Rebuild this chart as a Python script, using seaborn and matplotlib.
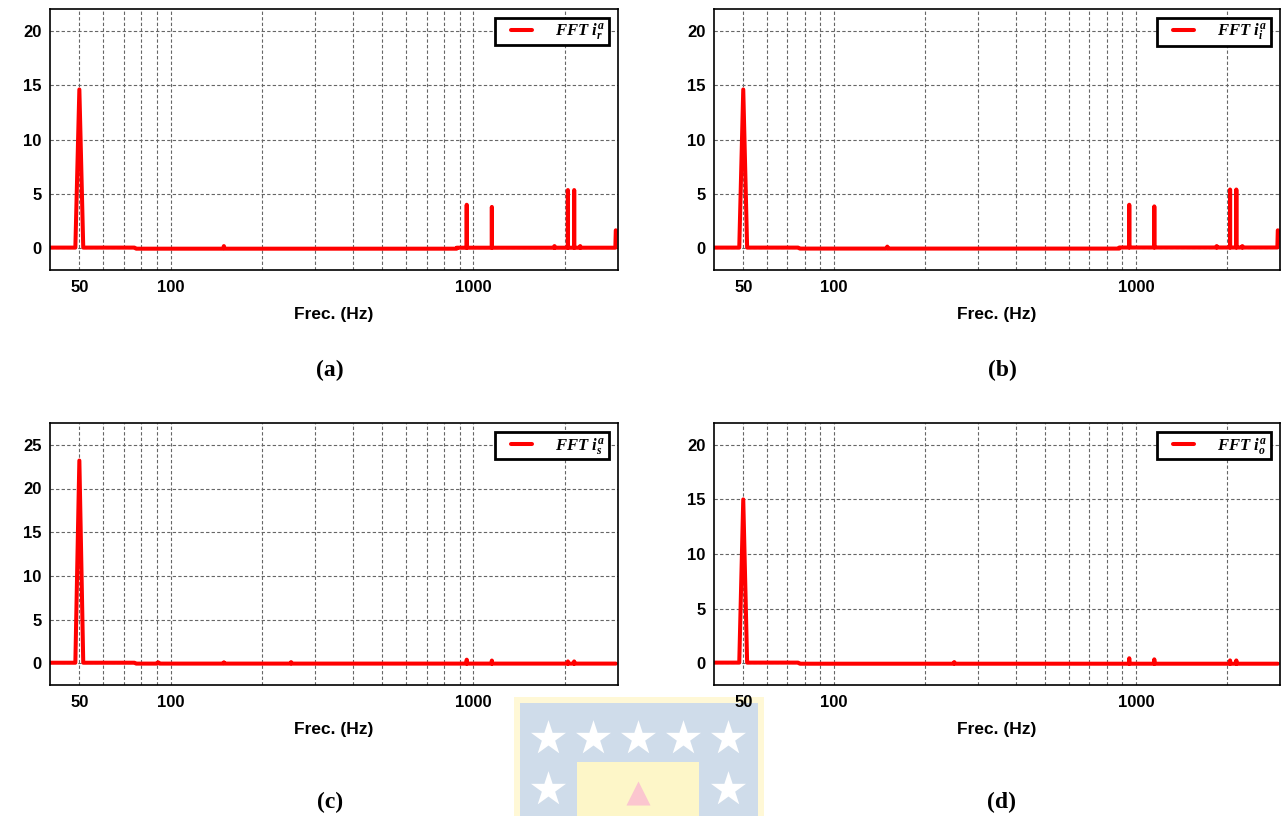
import numpy as np
import pandas as pd
import matplotlib
matplotlib.use("Agg")
import matplotlib.pyplot as plt
import seaborn as sns
from matplotlib.ticker import FixedLocator, FixedFormatter, NullFormatter
from matplotlib.patches import Rectangle
from matplotlib.lines import Line2D
from matplotlib.legend_handler import HandlerLine2D

# ---------------- data ----------------
freq_a = [40, 48.5, 50, 51.5, 76, 77, 149, 150, 151, 880, 881, 949, 950, 951,
          1149, 1150, 1151, 1850, 1851, 1852, 2049, 2050, 2051, 2149, 2150, 2151,
          2250, 2251, 2252, 2940, 2950]
amp_a = [0.06, 0.06, 14.6, 0.06, 0.06, -0.04, -0.04, 0.2, -0.04, -0.04, 0.05, 0.05, 4.0, 0.05,
         0.05, 3.8, 0.05, 0.05, 0.2, 0.05, 0.05, 5.35, 0.05, 0.05, 5.35, 0.05,
         0.05, 0.2, 0.05, 0.05, 1.65]

freq_b = [40, 48.5, 50, 51.5, 76, 77, 149, 150, 151, 880, 881, 949, 950, 951,
          1149, 1150, 1151, 1850, 1851, 1852, 2049, 2050, 2051, 2149, 2150, 2151,
          2250, 2251, 2252, 2940, 2950]
amp_b = [0.06, 0.06, 14.6, 0.06, 0.06, -0.03, -0.03, 0.15, -0.03, -0.03, 0.07, 0.07, 4.0, 0.07,
         0.07, 3.85, 0.07, 0.07, 0.2, 0.07, 0.07, 5.4, 0.07, 0.07, 5.4, 0.07,
         0.07, 0.2, 0.07, 0.07, 1.65]

freq_c = [40, 48.5, 50, 51.5, 76, 77, 90, 91, 92, 149, 150, 151, 249, 250, 251,
          949, 950, 951, 1149, 1150, 1151, 2049, 2050, 2051, 2149, 2150, 2151, 2950]
amp_c = [0.05, 0.05, 23.2, 0.05, 0.05, -0.05, -0.05, 0.1, -0.05, -0.05, 0.1, -0.05, -0.05, 0.12, -0.05,
         -0.05, 0.4, -0.05, -0.05, 0.3, -0.05, -0.05, 0.2, -0.05, -0.05, 0.2, -0.05, -0.05]

freq_d = [40, 48.5, 50, 51.5, 76, 77, 249, 250, 251,
          949, 950, 951, 1149, 1150, 1151, 2049, 2050, 2051, 2149, 2150, 2151, 2950]
amp_d = [0.05, 0.05, 15.0, 0.05, 0.05, -0.05, -0.05, 0.1, -0.05,
         -0.05, 0.45, -0.05, -0.05, 0.35, -0.05, -0.05, 0.25, -0.05, -0.05, 0.25, -0.05, -0.05]

labels = [r"$FFT\ i_r^a$", r"$FFT\ i_i^a$", r"$FFT\ i_s^a$", r"$FFT\ i_o^a$"]
captions = ["(a)", "(b)", "(c)", "(d)"]
xtick_major = [50, 100, 1000]
xtick_major_labels = ["50", "100", "1000"]
xtick_minor = [60, 70, 80, 90, 200, 300, 400, 500, 600, 700, 800, 900, 2000]
yticks_20 = [0, 5, 10, 15, 20]
yticks_25 = [0, 5, 10, 15, 20, 25]

# ---------------- style ----------------
sns.set_style("white")
plt.rcParams["font.family"] = ["Liberation Sans", "DejaVu Sans"]
plt.rcParams["mathtext.fontset"] = "custom"
plt.rcParams["mathtext.it"] = "Liberation Serif:italic:bold"
plt.rcParams["mathtext.rm"] = "Liberation Serif:bold"
plt.rcParams["mathtext.bf"] = "Liberation Serif:bold"
for k in ["text.color", "axes.labelcolor", "xtick.color", "ytick.color"]:
    plt.rcParams[k] = "black"

fig = plt.figure(figsize=(12.86, 8.16), dpi=100)
W, H = 1286, 816

# ---------------- faint watermark logo (background decoration) ----------------
lg = fig.add_axes([0, 0, 1, 1], zorder=-5)
lg.set_xlim(0, W)
lg.set_ylim(H, 0)
lg.axis("off")
lg.add_patch(Rectangle((514, 697), 250, 125, facecolor="#fff8d6", edgecolor="none"))
lg.add_patch(Rectangle((520, 703), 238, 120, facecolor="#cfdcea", edgecolor="none"))
lg.add_patch(Rectangle((577, 762), 122, 60, facecolor="#fdf6c8", edgecolor="none"))
lg.scatter([548, 593, 638, 683, 728, 548, 728], [738, 738, 738, 738, 738, 789, 789],
           marker="*", s=700, color="white", linewidths=0)
lg.scatter([638], [793], marker="^", s=300, color="#fbc6cf", linewidths=0)

boxes = [(50, 9, 618, 270), (714, 9, 1280, 270), (50, 423, 618, 685), (714, 423, 1280, 685)]
datasets = [(freq_a, amp_a, yticks_20, (-2, 22)),
            (freq_b, amp_b, yticks_20, (-2, 22)),
            (freq_c, amp_c, yticks_25, (-2.5, 27.5)),
            (freq_d, amp_d, yticks_20, (-2, 22))]
cap_pos = [(330, 370), (1002, 370), (330, 802), (1002, 802)]

for (x0, y0, x1, y1), (fr, am, yt, yl), lab, cap, (cx, cy) in zip(boxes, datasets, labels, captions, cap_pos):
    ax = fig.add_axes([x0 / W, 1 - y1 / H, (x1 - x0) / W, (y1 - y0) / H])
    df = pd.DataFrame({"f": fr, "a": am})
    sns.lineplot(data=df, x="f", y="a", ax=ax, color="#ff0000", lw=2.9,
                 label=lab, sort=False, estimator=None)
    ax.set_xscale("log")
    ax.set_xlim(40, 3000)
    ax.set_ylim(*yl)
    ax.xaxis.set_major_locator(FixedLocator(xtick_major))
    ax.xaxis.set_major_formatter(FixedFormatter(xtick_major_labels))
    ax.xaxis.set_minor_locator(FixedLocator(xtick_minor))
    ax.xaxis.set_minor_formatter(NullFormatter())
    ax.set_yticks(yt)
    ax.set_yticklabels([str(v) for v in yt])
    ax.tick_params(axis="both", which="both", length=0, labelsize=12)
    ax.tick_params(axis="x", pad=7)
    ax.tick_params(axis="y", pad=6)
    for t in ax.get_xticklabels() + ax.get_yticklabels():
        t.set_fontweight("bold")
    ax.grid(True, which="both", axis="x", color="0.4", linestyle=(0, (3, 2)), lw=0.8)
    ax.grid(True, which="major", axis="y", color="0.4", linestyle=(0, (3, 2)), lw=0.8)
    for s in ax.spines.values():
        s.set_color("black")
        s.set_linewidth(1.2)
    ax.set_xlabel("Frec. (Hz)", fontsize=12.5, fontweight="bold", labelpad=9)
    ax.set_ylabel("")
    leg = ax.legend(loc="upper right", fontsize=12, handlelength=2.0, handletextpad=1.4,
                    borderpad=0.2, borderaxespad=0.55, fancybox=False, framealpha=1,
                    handler_map={Line2D: HandlerLine2D(xpad=0.75)})
    leg.get_frame().set_edgecolor("black")
    leg.get_frame().set_linewidth(2)
    fig.text(cx / W, 1 - cy / H, cap, ha="center", va="center", fontsize=17,
             fontweight="bold", family=["Liberation Serif", "DejaVu Serif"])

fig.savefig("out.png", dpi=100)
